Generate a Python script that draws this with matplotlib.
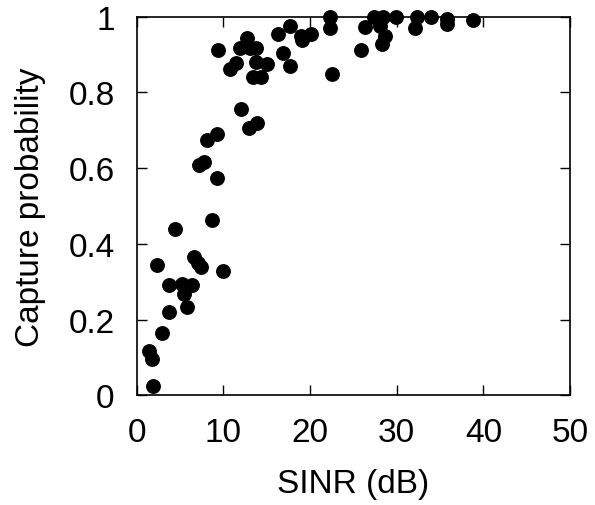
import matplotlib
matplotlib.use("Agg")
import matplotlib.pyplot as plt

plt.rcParams['font.family'] = ['Liberation Sans', 'DejaVu Sans']

# SINR (dB) vs capture probability
sinr = [1.9, 1.7, 1.4, 2.9, 3.7, 5.8, 5.5, 3.7, 5.2, 6.4, 2.3, 6.6, 7.4, 7.1, 10.0,
        4.4, 8.7, 9.3, 8.1, 9.3, 7.2, 7.7, 12.0, 12.9, 13.9,
        9.4, 10.7, 11.4, 11.9, 12.7, 13.1, 13.7, 13.8, 15.0, 13.4, 14.3,
        16.3, 17.7, 16.9, 17.7, 19.0, 19.1, 20.1,
        22.3, 22.3, 22.5, 25.9, 26.3, 27.4, 28.4, 28.1, 28.6, 28.3, 29.9,
        32.3, 32.1, 34.0, 35.8, 35.8, 38.8]
capture = [0.025, 0.095, 0.117, 0.164, 0.22, 0.233, 0.267, 0.292, 0.295, 0.29, 0.344, 0.364, 0.34, 0.35, 0.328,
           0.439, 0.462, 0.574, 0.674, 0.691, 0.608, 0.617, 0.757, 0.705, 0.72,
           0.912, 0.863, 0.879, 0.917, 0.945, 0.917, 0.917, 0.881, 0.876, 0.841, 0.841,
           0.954, 0.976, 0.905, 0.87, 0.95, 0.938, 0.953,
           1.0, 0.971, 0.848, 0.911, 0.974, 1.0, 1.0, 0.976, 0.95, 0.927, 1.0,
           1.0, 0.97, 0.999, 0.993, 0.98, 0.99]

fig = plt.figure(figsize=(5.95, 5.06), dpi=100)
ax = fig.add_axes([0.230, 0.217, 0.728, 0.748])

ax.plot(sinr, capture, 'o', color='black', markersize=9.7, clip_on=False)

ax.set_xlim(0, 50)
ax.set_ylim(0, 1)
ax.set_xticks([0, 10, 20, 30, 40, 50])
ax.set_yticks([0, 0.2, 0.4, 0.6, 0.8, 1])
ax.set_yticklabels(['0', '0.2', '0.4', '0.6', '0.8', '1'])
ax.tick_params(direction='in', length=7, width=1, top=True, right=True,
               labelsize=24, pad=16)
for sp in ax.spines.values():
    sp.set_linewidth(1.2)

ax.set_xlabel('SINR (dB)', fontsize=24, labelpad=14)
ax.set_ylabel('Capture probability', fontsize=24, labelpad=16)

fig.savefig('out.png', dpi=100)
